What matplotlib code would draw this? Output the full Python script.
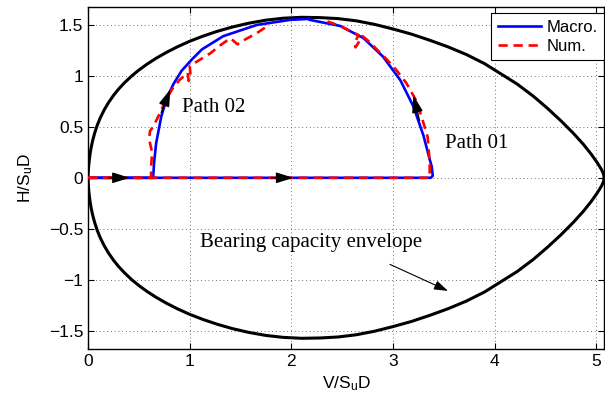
import numpy as np
import matplotlib
matplotlib.use('Agg')
import matplotlib.pyplot as plt

# bearing capacity envelope (upper half, lower half is mirrored)
env_v = [0, 0.002, 0.006, 0.012, 0.02, 0.03, 0.045, 0.065, 0.09, 0.12, 0.16, 0.2, 0.25,
         0.3, 0.36, 0.43, 0.5, 0.58, 0.67, 0.77, 0.88, 1.0, 1.13, 1.27, 1.42, 1.58, 1.75,
         1.92, 2.1, 2.28, 2.46, 2.64, 2.82, 3.0, 3.18, 3.36, 3.54, 3.72, 3.9, 4.06, 4.22,
         4.38, 4.52, 4.65, 4.77, 4.87, 4.95, 5.01, 5.05, 5.07, 5.075]
env_h = [0, 0.052, 0.111, 0.172, 0.233, 0.293, 0.364, 0.438, 0.514, 0.588, 0.668, 0.736, 0.808,
         0.87, 0.934, 1.0, 1.057, 1.115, 1.173, 1.23, 1.286, 1.34, 1.39, 1.437, 1.48, 1.517,
         1.547, 1.566, 1.575, 1.572, 1.562, 1.54, 1.505, 1.46, 1.41, 1.35, 1.285, 1.21, 1.12,
         1.02, 0.92, 0.80, 0.68, 0.56, 0.44, 0.33, 0.23, 0.145, 0.08, 0.035, 0]

# macro-element model
macro02_v = [0, 0.64, 0.65, 0.67, 0.72, 0.77, 0.84, 0.92, 1.02, 1.12, 1.33, 1.66, 1.99, 2.18]
macro02_h = [0, 0, 0.15, 0.34, 0.6, 0.77, 0.92, 1.05, 1.16, 1.26, 1.39, 1.50, 1.55, 1.56]
macro01_v = [0, 3.37, 3.39, 3.38, 3.36, 3.30, 3.20, 3.07, 2.90, 2.71, 2.48, 2.18]
macro01_h = [0, 0, 0.02, 0.11, 0.18, 0.41, 0.70, 0.96, 1.19, 1.37, 1.49, 1.55]

# numerical model
num02_v = [0, 0.62, 0.62, 0.63, 0.60, 0.61, 0.64, 0.70, 0.75, 0.82, 0.90, 0.98, 0.99,
           1.01, 1.00, 1.07, 1.20, 1.30, 1.40, 1.47, 1.55, 1.66, 1.75]
num02_h = [0, 0, 0.1, 0.25, 0.38, 0.46, 0.5, 0.62, 0.73, 0.86, 0.96, 1.03, 0.95,
           0.98, 1.10, 1.14, 1.22, 1.30, 1.37, 1.31, 1.36, 1.42, 1.48]
num01_v = [0, 3.36, 3.36, 3.34, 3.28, 3.22, 3.13, 3.03, 2.94, 2.84, 2.76, 2.70,
           2.63, 2.62, 2.66, 2.58, 2.48, 2.31]
num01_h = [0, 0, 0.15, 0.4, 0.6, 0.77, 0.93, 1.06, 1.16, 1.26, 1.34, 1.39,
           1.28, 1.32, 1.40, 1.44, 1.49, 1.55]

xticks = [0, 1, 2, 3, 4, 5]
yticks = [-1.5, -1, -0.5, 0, 0.5, 1, 1.5]
ytick_labels = ['\u22121.5', '\u22121', '\u22120.5', '0', '0.5', '1', '1.5']

plt.rcParams['font.family'] = ['Liberation Sans', 'DejaVu Sans']
plt.rcParams['mathtext.default'] = 'regular'

fig = plt.figure(figsize=(6.05, 4.0), dpi=100)
ax = fig.add_axes([0.1455, 0.1275, 0.853, 0.856])

env_v = np.array(env_v)
env_h = np.array(env_h)
ax.plot(np.concatenate([env_v, env_v[::-1]]), np.concatenate([env_h, -env_h[::-1]]),
        color='k', lw=2.2, zorder=2, solid_joinstyle='round')

ax.plot(macro02_v, macro02_h, color='b', lw=1.9, zorder=3, label='Macro.')
ax.plot(macro01_v, macro01_h, color='b', lw=1.9, zorder=3)
ax.plot(num02_v, num02_h, color='r', lw=1.9, ls=(0, (3.5, 2.2)), zorder=4, label='Num.')
ax.plot(num01_v, num01_h, color='r', lw=1.9, ls=(0, (3.5, 2.2)), zorder=4)

# path direction arrows
big = dict(arrowstyle='-|>,head_length=0.7,head_width=0.22', color='k', lw=1.0,
           mutation_scale=15, shrinkA=0, shrinkB=0)
for tip, tail in [((0.41, 0), (0.2, 0)), ((2.02, 0), (1.8, 0)),
                  ((0.81, 0.87), (0.72, 0.64)), ((3.20, 0.81), (3.26, 0.56))]:
    ax.annotate('', xy=tip, xytext=tail, arrowprops=big, zorder=5)

ax.text(0.92, 0.69, 'Path 02', family='Liberation Serif', fontsize=15, va='center')
ax.text(3.51, 0.34, 'Path 01', family='Liberation Serif', fontsize=15, va='center')
ax.text(1.10, -0.63, 'Bearing capacity envelope', family='Liberation Serif',
        fontsize=15, va='center')
ax.annotate('', xy=(3.54, -1.11), xytext=(2.97, -0.85),
            arrowprops=dict(arrowstyle='-|>,head_length=0.6,head_width=0.2', color='k',
                            lw=0.8, mutation_scale=14, shrinkA=0, shrinkB=0))

ax.set_xlim(0, 5.075)
ax.set_ylim(-1.68, 1.68)
ax.set_xticks(xticks)
ax.set_yticks(yticks)
ax.set_yticklabels(ytick_labels)
ax.tick_params(direction='in', top=True, right=True, labelsize=12.5, length=4, width=0.8)
ax.grid(True, ls=(0, (1, 3.5)), color='#444444', lw=0.6)
for s in ax.spines.values():
    s.set_linewidth(1.0)

ax.set_xlabel(r'V/S$_u$D', fontsize=12.5, labelpad=4)
ax.set_ylabel(r'H/S$_u$D', fontsize=12.5, labelpad=10)

leg = ax.legend(loc='upper right', bbox_to_anchor=(1.0, 0.9816), fontsize=12,
                fancybox=False, framealpha=1, edgecolor='k', borderaxespad=0,
                handlelength=2.6, borderpad=0.4, labelspacing=0.25, handletextpad=0.3)
leg.get_frame().set_linewidth(0.8)

fig.savefig('out.png', dpi=100)
